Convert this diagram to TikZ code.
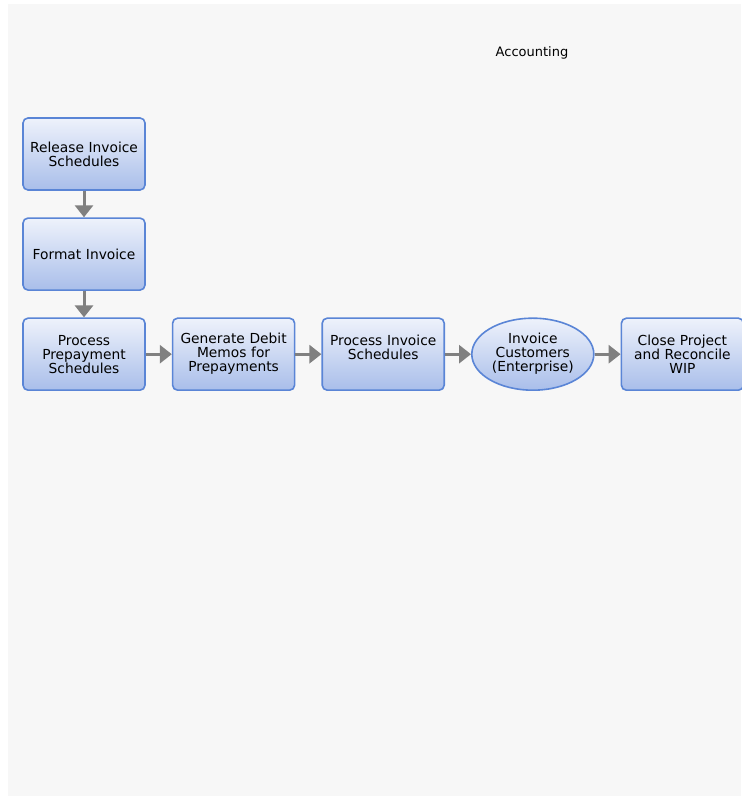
\documentclass[tikz,border=0pt]{standalone}
\usepackage{fontspec}
\setmainfont{DejaVu Sans}
\usetikzlibrary{positioning,shapes.geometric,arrows.meta}

\definecolor{bggray}{HTML}{F7F7F7}
\definecolor{boxline}{HTML}{5A85D6}
\definecolor{boxtop}{HTML}{EEF2FB}
\definecolor{boxbot}{HTML}{A9BEEA}
\definecolor{flowgray}{HTML}{808080}

\tikzset{
  task/.style={draw=boxline, line width=1.6pt, rounded corners=5pt,
    top color=boxtop, bottom color=boxbot,
    minimum width=122pt, minimum height=72pt, text width=120pt,
    align=center, inner sep=0pt, font=\fontsize{13.8}{14}\selectfont},
  event/.style={task, ellipse, rounded corners=0pt, text width=84pt},
  flow/.style={draw=flowgray, line width=3pt, -{Triangle[width=18pt,length=12pt]}}
}

\begin{document}
\begin{tikzpicture}[x=1pt, y=1pt, node distance=26.5pt and 26pt]
        \useasboundingbox (0,0) rectangle (741,799);
        \fill[bggray] (8,3) rectangle (741,795);

        % lane title
        \node[font=\fontsize{13}{14}\selectfont] (lane) at (532,746) {Accounting};

        % first column, top to bottom
        \node[task] (release) at (84,645) {Release Invoice\\Schedules};
        \node[task, below=of release] (format) {Format Invoice};
        \node[task, below=of format] (prepay) {Process\\Prepayment\\Schedules};

        % row to the right
        \node[task, right=of prepay] (debit) {Generate Debit\\Memos for\\Prepayments};
        \node[task, right=of debit] (invsched) {Process Invoice\\Schedules\\~};
        \node[event, right=of invsched] (customers) {Invoice\\Customers\\(Enterprise)};
        \node[task, right=of customers] (close) {Close Project\\and Reconcile\\WIP};

        % flows
        \draw[flow] (release) -- (format);
        \draw[flow] (format) -- (prepay);
        \foreach \a/\b in {prepay/debit, debit/invsched, invsched/customers, customers/close} {
            \draw[flow] (\a) -- (\b);
        }
\end{tikzpicture}
\end{document}
